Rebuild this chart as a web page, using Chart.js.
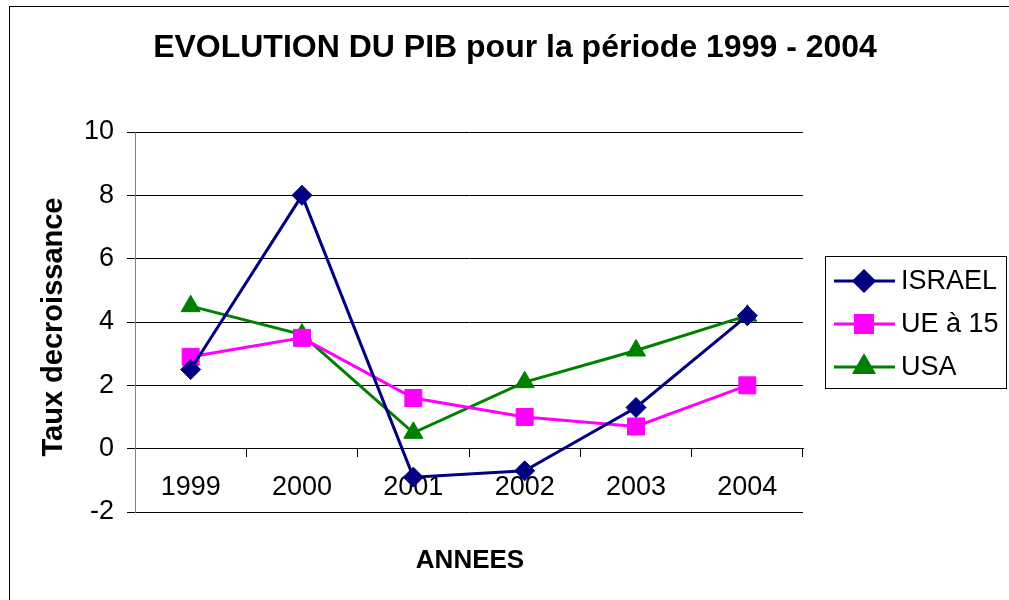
<!DOCTYPE html>
<html>
<head>
<meta charset="utf-8">
<script src="https://cdn.jsdelivr.net/npm/chart.js@4"></script>
<style>
    body { margin: 0; background: #fff; }
    #wrap { width: 1009px; height: 600px; }
</style>
</head>
<body>
<div id="wrap"><canvas id="pib"></canvas></div>
<script>
const years = ['1999', '2000', '2001', '2002', '2003', '2004'];
const israel = [2.5, 8.0, -0.9, -0.7, 1.3, 4.2];
const ue15 = [2.9, 3.5, 1.6, 1.0, 0.7, 2.0];
const usa = [4.5, 3.6, 0.5, 2.1, 3.1, 4.2];
const seriesNames = ['ISRAEL', 'UE à 15', 'USA'];

const FONT = '"Liberation Sans", Arial, sans-serif';

// titres, cadre et légende dessinés à la main (style Excel)
const excelFrame = {
    id: 'excelFrame',
    beforeDraw(chart) {
        const ctx = chart.ctx;
        ctx.save();
        ctx.fillStyle = '#fff';
        ctx.fillRect(0, 0, chart.width, chart.height);
        ctx.restore();
    },
    afterDraw(chart) {
        const ctx = chart.ctx;
        ctx.save();
        ctx.strokeStyle = '#000';
        ctx.lineWidth = 1;
        ctx.strokeRect(9.5, 6.5, 1200, 800);

        ctx.fillStyle = '#000';
        ctx.textAlign = 'center';
        ctx.textBaseline = 'middle';
        ctx.font = 'bold 32px ' + FONT;
        ctx.fillText('EVOLUTION DU PIB pour la période 1999 - 2004', 515, 48);

        ctx.font = 'bold 26px ' + FONT;
        ctx.fillText('ANNEES', 470, 561);

        ctx.save();
        ctx.translate(54, 327);
        ctx.rotate(-Math.PI / 2);
        ctx.font = 'bold 29px ' + FONT;
        ctx.fillText('Taux decroissance', 0, 0);
        ctx.restore();

        // légende
        ctx.strokeRect(825.5, 256.5, 181, 132);
        ctx.textAlign = 'left';
        ctx.font = '27px ' + FONT;
        const rows = [281, 324, 367];
        chart.data.datasets.forEach(function (ds, i) {
            const y = rows[i];
            ctx.strokeStyle = ds.borderColor;
            ctx.lineWidth = ds.borderWidth;
            ctx.beginPath();
            ctx.moveTo(834, y);
            ctx.lineTo(895, y);
            ctx.stroke();
            ctx.fillStyle = ds.pointBackgroundColor;
            ctx.strokeStyle = ds.borderColor;
            Chart.helpers.drawPoint(ctx, {
                pointStyle: ds.pointStyle,
                radius: ds.pointRadius,
                rotation: 0,
                borderWidth: 1
            }, 864, y);
            ctx.fillStyle = '#000';
            ctx.fillText(ds.label, 901, y + 1);
        });
        ctx.restore();
    }
};

function serie(label, data, color, style, radius) {
    return {
        label: label,
        data: data,
        borderColor: color,
        backgroundColor: color,
        pointBackgroundColor: color,
        pointBorderColor: color,
        borderWidth: 3,
        pointStyle: style,
        pointRadius: radius,
        pointBorderWidth: 1,
        tension: 0,
        clip: false
    };
}

new Chart(document.getElementById('pib'), {
    type: 'line',
    data: {
        labels: years,
        datasets: [
            serie(seriesNames[0], israel, '#000080', 'rectRot', 10),
            serie(seriesNames[1], ue15, '#FF00FF', 'rect', 12),
            serie(seriesNames[2], usa, '#008000', 'triangle', 11)
        ]
    },
    options: {
        responsive: true,
        maintainAspectRatio: false,
        animation: false,
        layout: {
            padding: { left: 0, right: 206, top: 132, bottom: 88 }
        },
        plugins: {
            legend: { display: false },
            tooltip: { enabled: false }
        },
        scales: {
            x: {
                type: 'category',
                position: { y: 0 },
                offset: true,
                grid: {
                    offset: true,
                    drawOnChartArea: false,
                    drawTicks: true,
                    tickLength: 8,
                    color: '#000'
                },
                border: { display: true, color: '#000', width: 1 },
                ticks: {
                    color: '#000',
                    font: { family: FONT, size: 27 },
                    padding: 15,
                    maxRotation: 0
                }
            },
            y: {
                min: -2,
                max: 10,
                ticks: {
                    stepSize: 2,
                    color: '#000',
                    font: { family: FONT, size: 27 },
                    padding: 13
                },
                grid: {
                    color: '#000',
                    tickLength: 8
                },
                border: { display: true, color: '#808080', width: 1 },
                afterFit: function (scale) {
                    scale.width = 135;
                }
            }
        }
    },
    plugins: [excelFrame]
});
</script>
</body>
</html>
